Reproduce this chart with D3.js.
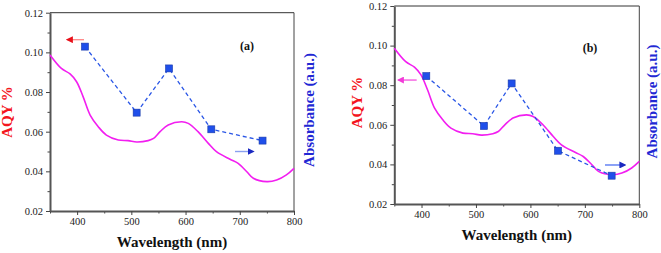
<!DOCTYPE html>
<html>
<head>
<meta charset="utf-8">
<script src="https://cdn.jsdelivr.net/npm/d3@7"></script>
<style>
  body { margin: 0; background: #fff; }
  svg { display: block; }
  .tick text { fill: #222; }
</style>
</head>
<body>
<svg id="chart" width="661" height="253"></svg>
<script>
// Spectrum curve (same measured spectrum in both panels)
var curveWl  = [350, 371, 387, 399, 411, 424, 439, 454, 476, 494, 510, 531, 541, 553, 568, 593, 605, 623, 642, 657, 682, 697, 713, 725, 750, 768, 786, 800];
var curveVal = [0.0987, 0.0919, 0.0891, 0.0852, 0.0777, 0.0684, 0.0625, 0.0583, 0.0558, 0.0555, 0.0548, 0.0555, 0.0566, 0.0600, 0.0634, 0.0650, 0.0642, 0.0600, 0.0541, 0.0499, 0.0461, 0.0440, 0.0398, 0.0365, 0.0348, 0.0356, 0.0382, 0.0415];

// Square markers
var wlA  = [414.5, 509.8, 569.5, 647.5, 742];
var aqyA = [0.1029, 0.0696, 0.0919, 0.0612, 0.0555];
var wlB  = [408.8, 514.7, 565.5, 650.6, 749.2];
var aqyB = [0.0846, 0.0594, 0.0809, 0.0469, 0.0343];

// axis ticks
var xTicks = [400, 500, 600, 700, 800];
var xMinor = [350, 450, 550, 650, 750];
var yTicks = [0.02, 0.04, 0.06, 0.08, 0.10, 0.12];
var yMinor = [0.03, 0.05, 0.07, 0.09, 0.11];

// arrows [x from, x to, y] in data units, head at "to"
var arrowsA = [[412.7, 381.9, 0.1064], [691.2, 724.9, 0.0500]];
var arrowsB = [[391.1, 357.3, 0.0826], [737.0, 773.7, 0.0397]];

var SERIF = "Liberation Serif";

var svg = d3.select("#chart");

var defs = svg.append("defs");
function marker(id, color) {
  defs.append("marker")
      .attr("id", id)
      .attr("viewBox", "0 0 10 10")
      .attr("refX", 8).attr("refY", 5)
      .attr("markerWidth", 5).attr("markerHeight", 5)
      .attr("orient", "auto-start-reverse")
    .append("path")
      .attr("d", "M0,0 L10,5 L0,10 z")
      .attr("fill", color);
}
marker("headRed", "#e8101a");
marker("headBlue", "#1a28c0");
marker("headPink", "#f23ad8");

function styleAxis(a) {
  a.attr("font-family", SERIF).attr("font-size", 10.5);
  a.select(".domain").attr("stroke", "#555").attr("stroke-width", 2);
  a.selectAll("line").attr("stroke", "#444");
}

function panel(p) {
  var width = p.right - p.left,
      height = p.bottom - p.top,
      g = svg.append("g").attr("transform", "translate(" + p.left + "," + p.top + ")");

  var x = d3.scaleLinear().domain([350, 800]).range([0, width]),
      y = d3.scaleLinear().domain([0.02, 0.12]).range([height, 0]);

  // box top/right
  g.append("line").attr("x1", 0).attr("x2", width).attr("y1", 0).attr("y2", 0)
      .attr("stroke", "#333").attr("stroke-width", 1);
  g.append("line").attr("x1", width).attr("x2", width).attr("y1", 0).attr("y2", height)
      .attr("stroke", "#444").attr("stroke-width", 1);

  // minor ticks
  g.append("g")
      .attr("transform", "translate(0," + height + ")")
      .call(d3.axisBottom(x).tickValues(xMinor).tickSize(2.5).tickFormat(""))
      .call(function(a) { a.select(".domain").remove(); a.selectAll("line").attr("stroke", "#444"); });
  g.append("g")
      .call(d3.axisLeft(y).tickValues(yMinor).tickSize(2.5).tickFormat(""))
      .call(function(a) { a.select(".domain").remove(); a.selectAll("line").attr("stroke", "#444"); });

  g.append("g")
      .attr("transform", "translate(0," + height + ")")
      .call(d3.axisBottom(x).tickValues(xTicks).tickSize(4).tickSizeOuter(0).tickPadding(3))
      .call(styleAxis);

  g.append("g")
      .call(d3.axisLeft(y).tickValues(yTicks).tickSize(4).tickSizeOuter(0).tickPadding(3).tickFormat(d3.format(".2f")))
      .call(styleAxis);

  // spectrum
  var line = d3.line()
      .x(function(d, i) { return x(curveWl[i]); })
      .y(function(d) { return y(d); })
      .curve(d3.curveCatmullRom.alpha(0.5));

  g.append("path")
      .attr("d", line(curveVal))
      .attr("fill", "none")
      .attr("stroke", "#f21ef0")
      .attr("stroke-width", 1.6);

  // dashed + squares
  var dash = d3.line()
      .x(function(d, i) { return x(p.wl[i]); })
      .y(function(d) { return y(d); });

  g.append("path")
      .attr("d", dash(p.aqy))
      .attr("fill", "none")
      .attr("stroke", "#2a56e6")
      .attr("stroke-width", 1.3)
      .attr("stroke-dasharray", "4,3");

  g.selectAll(".sq")
    .data(p.aqy)
    .enter().append("rect")
      .attr("class", "sq")
      .attr("x", function(d, i) { return x(p.wl[i]) - 3.5; })
      .attr("y", function(d) { return y(d) - 3.5; })
      .attr("width", 7).attr("height", 7)
      .attr("fill", "#1f4fea")
      .attr("stroke", "#1a3aa8")
      .attr("stroke-width", 0.6);

  // arrows
  p.arrows.forEach(function(a, i) {
    g.append("line")
        .attr("x1", x(a[0])).attr("x2", x(a[1]))
        .attr("y1", y(a[2])).attr("y2", y(a[2]))
        .attr("stroke", p.arrowColors[i])
        .attr("stroke-width", 1.4)
        .attr("marker-end", "url(#" + p.arrowHeads[i] + ")");
  });

  // panel letter
  g.append("text")
      .attr("x", p.letterX - p.left)
      .attr("y", p.letterY - p.top)
      .attr("text-anchor", "middle")
      .attr("font-family", SERIF)
      .attr("font-weight", "bold")
      .attr("font-size", 12)
      .attr("fill", "#111")
      .text(p.letter);

  // titles
  svg.append("text")
      .attr("x", p.left + width / 2)
      .attr("y", p.xTitleY)
      .attr("text-anchor", "middle")
      .attr("font-family", SERIF)
      .attr("font-weight", "bold")
      .attr("font-size", 15)
      .attr("fill", "#111")
      .text("Wavelength (nm)");

  svg.append("text")
      .attr("transform", "translate(" + p.yTitleX + "," + p.yTitleCy + ") rotate(-90)")
      .attr("text-anchor", "middle")
      .attr("font-family", SERIF)
      .attr("font-weight", "bold")
      .attr("font-size", 15)
      .attr("fill", "#f4161e")
      .text("AQY %");

  svg.append("text")
      .attr("transform", "translate(" + p.y2TitleX + "," + p.y2TitleCy + ") rotate(-90)")
      .attr("text-anchor", "middle")
      .attr("font-family", SERIF)
      .attr("font-weight", "bold")
      .attr("font-size", 15)
      .attr("fill", "#2228d4")
      .text("Absorbance (a.u.)");
}

panel({
  left: 50, right: 294, top: 12.7, bottom: 211,
  wl: wlA, aqy: aqyA, arrows: arrowsA,
  arrowColors: ["#ff8c8c", "#8aa0f0"], arrowHeads: ["headRed", "headBlue"],
  letter: "(a)", letterX: 247, letterY: 50,
  xTitleY: 246.5, yTitleX: 12, yTitleCy: 112, y2TitleX: 314, y2TitleCy: 110
});

panel({
  left: 394.3, right: 639.3, top: 6, bottom: 204,
  wl: wlB, aqy: aqyB, arrows: arrowsB,
  arrowColors: ["#f55ce0", "#5a7af2"], arrowHeads: ["headPink", "headBlue"],
  letter: "(b)", letterX: 590, letterY: 51.5,
  xTitleY: 240, yTitleX: 362, yTitleCy: 102.5, y2TitleX: 656.5, y2TitleCy: 101.5
});
</script>
</body>
</html>
